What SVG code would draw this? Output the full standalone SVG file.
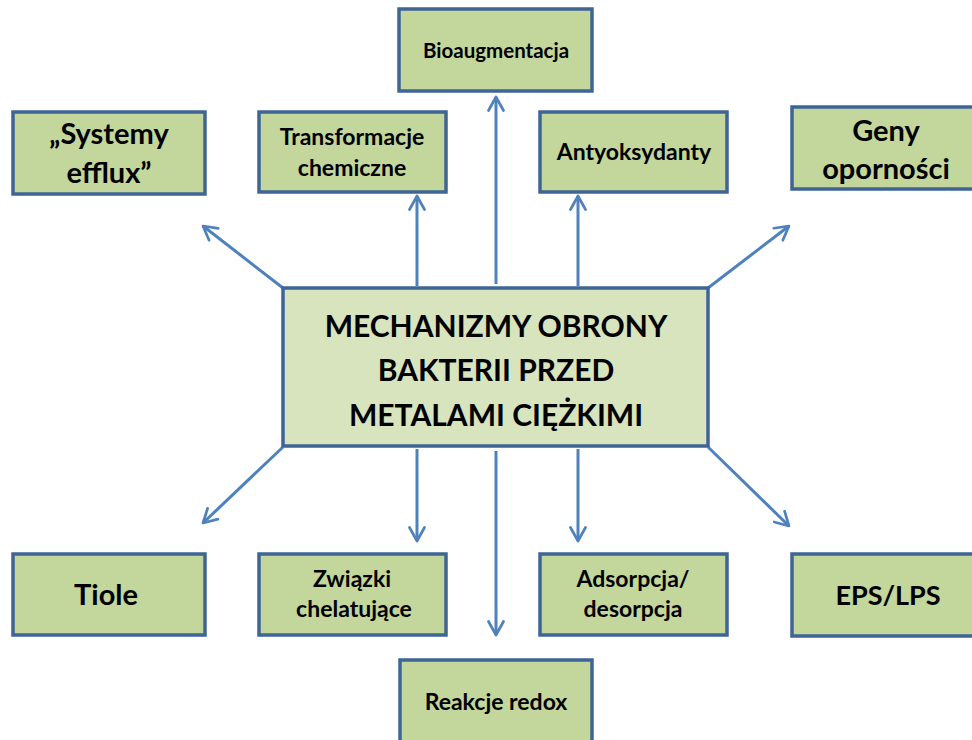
<svg xmlns="http://www.w3.org/2000/svg" width="972" height="740" viewBox="0 0 972 740">
<defs>
<style>
.box{fill:#C3D69B;stroke:#3E6595;stroke-width:3.5}
.main{fill:#D7E4BD;stroke:#3E6595;stroke-width:3.5}
.t{font-family:Lato,"Open Sans","Liberation Sans",sans-serif;font-weight:bold;fill:#000;text-anchor:middle}
.s{font-size:23px}
.b{font-size:20.5px}
.l{font-size:29px}
.c{font-size:30px}
.a{stroke:#4F81BD;stroke-width:3;fill:none;marker-end:url(#ah)}
</style>
<marker id="ah" viewBox="0 0 12 12" refX="10" refY="6" markerWidth="6" markerHeight="6" orient="auto" markerUnits="strokeWidth">
<path d="M1,1 L10,6 L1,11" fill="none" stroke="#4F81BD" stroke-width="1.8" stroke-linecap="round" stroke-linejoin="round"/>
</marker>
</defs>
<rect width="972" height="740" fill="#fff"/>
<g id="connectors">
<line class="a" x1="283" y1="288" x2="203" y2="226"/>
<line class="a" x1="417" y1="286" x2="417" y2="196"/>
<line class="a" x1="496" y1="284" x2="496" y2="97"/>
<line class="a" x1="578" y1="286" x2="578" y2="196"/>
<line class="a" x1="708" y1="288" x2="789" y2="226"/>
<line class="a" x1="283" y1="447" x2="203" y2="523"/>
<line class="a" x1="417" y1="449" x2="417" y2="541"/>
<line class="a" x1="496" y1="451" x2="496" y2="635"/>
<line class="a" x1="578" y1="449" x2="578" y2="541"/>
<line class="a" x1="708" y1="447" x2="789" y2="526"/>
</g>
<g id="center">
<rect class="main" x="283" y="288" width="425" height="158"/>
<text class="t c" x="496" y="337">MECHANIZMY OBRONY</text>
<text class="t c" x="496" y="381">BAKTERII PRZED</text>
<text class="t c" x="496" y="426">METALAMI CIĘŻKIMI</text>
</g>
<g id="systemy">
<rect class="box" x="13" y="112" width="192" height="82"/>
<text class="t l" x="109" y="144">„Systemy</text>
<text class="t l" x="109" y="183">efflux”</text>
</g>
<g id="transformacje">
<rect class="box" x="259" y="112" width="187" height="80"/>
<text class="t s" x="352" y="145">Transformacje</text>
<text class="t s" x="352" y="176">chemiczne</text>
</g>
<g id="bioaugmentacja">
<rect class="box" x="399" y="9" width="193" height="82"/>
<text class="t b" x="496" y="58">Bioaugmentacja</text>
</g>
<g id="antyoksydanty">
<rect class="box" x="540" y="112" width="187" height="80"/>
<text class="t s" x="634" y="160">Antyoksydanty</text>
</g>
<g id="geny">
<rect class="box" x="792" y="107" width="192" height="82"/>
<text class="t l" x="886" y="141">Geny</text>
<text class="t l" x="886" y="179">oporności</text>
</g>
<g id="tiole">
<rect class="box" x="13" y="554" width="192" height="81"/>
<text class="t l" x="106" y="605">Tiole</text>
</g>
<g id="zwiazki">
<rect class="box" x="259" y="554" width="187" height="81"/>
<text class="t s" x="352" y="587">Związki</text>
<text class="t s" x="354" y="617">chelatujące</text>
</g>
<g id="adsorpcja">
<rect class="box" x="540" y="554" width="187" height="81"/>
<text class="t s" x="633" y="587">Adsorpcja/</text>
<text class="t s" x="633" y="617">desorpcja</text>
</g>
<g id="eps">
<rect class="box" x="792" y="554" width="192" height="82"/>
<text class="t" style="font-size:27px" x="888" y="605">EPS/LPS</text>
</g>
<g id="redox">
<rect class="box" x="400" y="660" width="192" height="90"/>
<text class="t s" x="496" y="710">Reakcje redox</text>
</g>
</svg>
